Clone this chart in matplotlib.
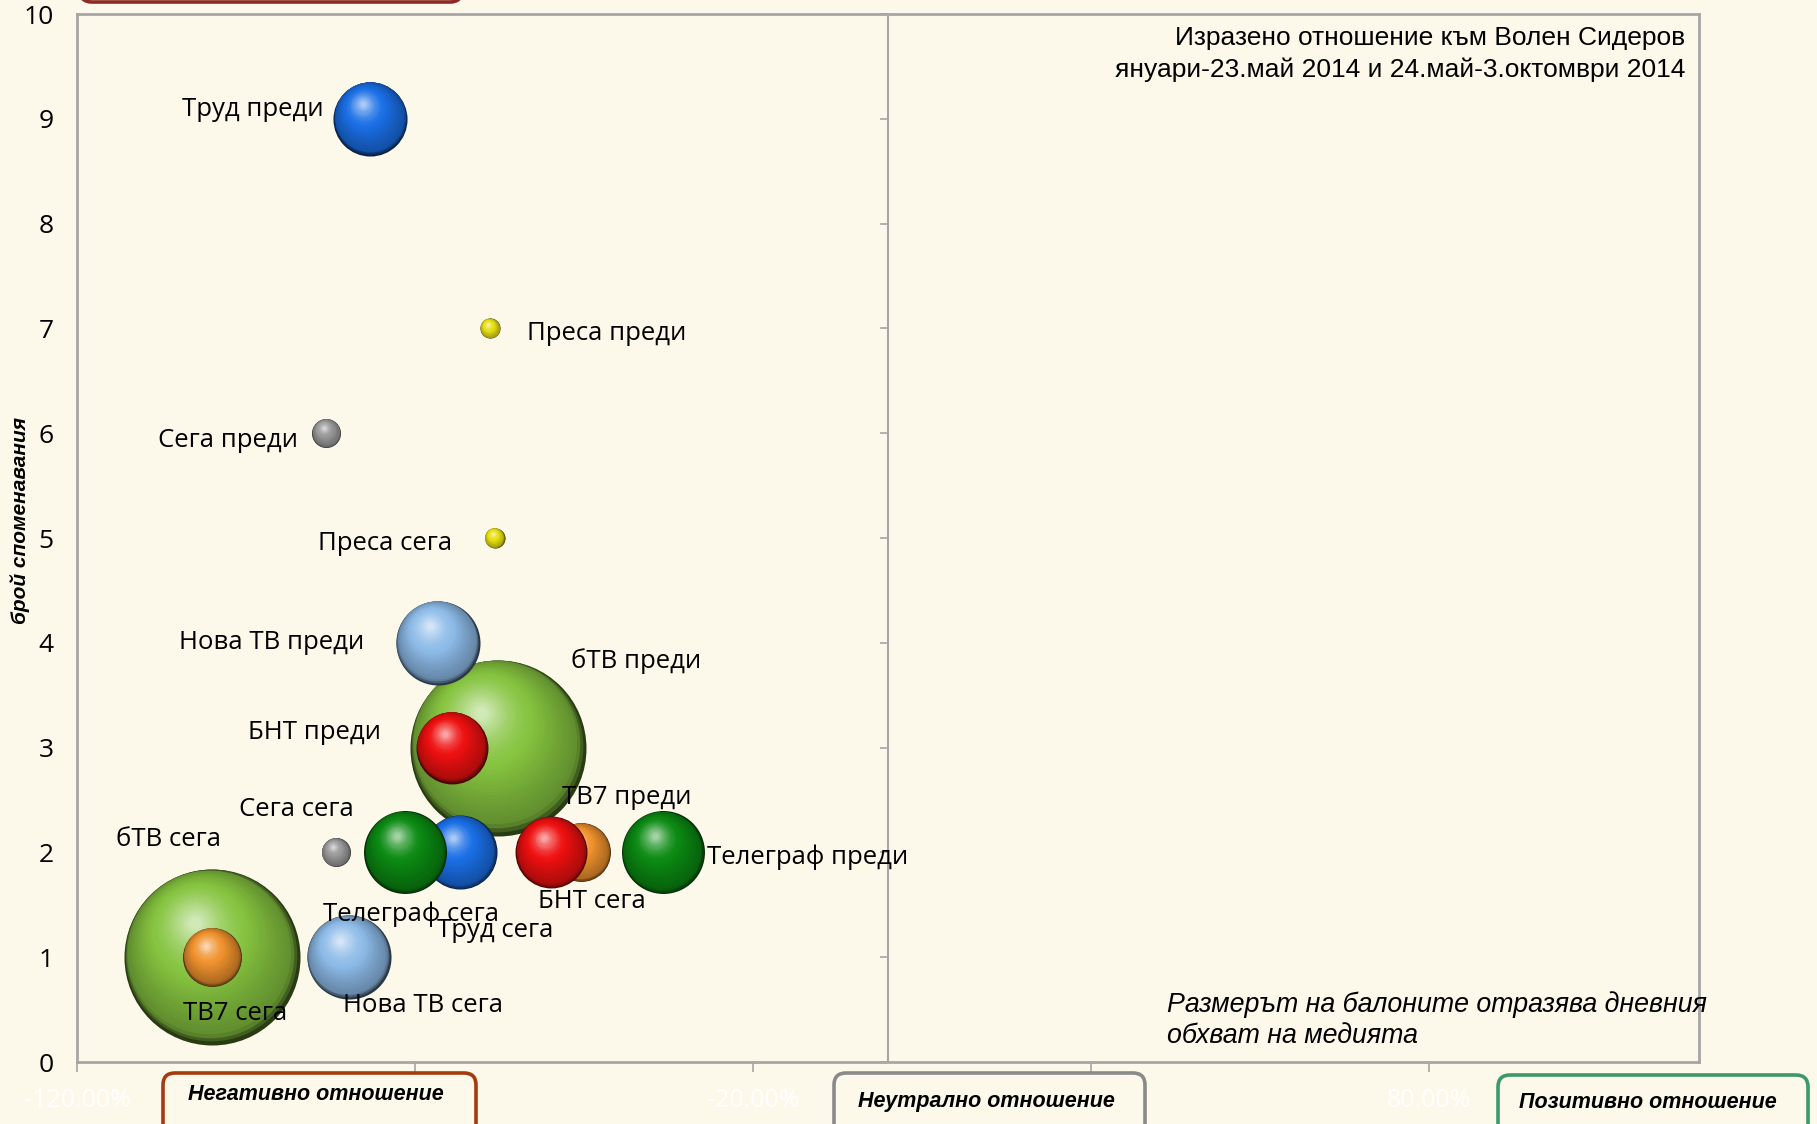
import numpy as np
import matplotlib
matplotlib.use("Agg")
import matplotlib.pyplot as plt
from matplotlib import transforms, markers
from matplotlib.patches import FancyBboxPatch
from matplotlib.colors import to_rgb

# ---------------- data ----------------
point_labels = ["Труд преди", "Преса преди", "Сега преди", "Преса сега", "Нова ТВ преди",
                "бТВ преди", "БНТ преди", "Сега сега", "Телеграф сега", "Труд сега",
                "БНТ сега", "ТВ7 преди", "Телеграф преди", "бТВ сега", "ТВ7 сега", "Нова ТВ сега"]
point_media = ["Труд", "Преса", "Сега", "Преса", "Нова ТВ",
               "бТВ", "БНТ", "Сега", "Телеграф", "Труд",
               "БНТ", "ТВ7", "Телеграф", "бТВ", "ТВ7", "Нова ТВ"]
attitude_pct = [-76.6, -58.9, -83.1, -58.2, -66.6,
                -57.7, -64.5, -81.7, -71.4, -63.3,
                -49.8, -45.4, -33.3, -100.0, -100.0, -79.8]
mentions = [9, 7, 6, 5, 4, 3, 3, 2, 2, 2, 2, 2, 2, 1, 1, 1]

media_names = ["бТВ", "Нова ТВ", "Телеграф", "Труд", "БНТ", "ТВ7", "Сега", "Преса"]
daily_reach = [100, 22.8, 22.2, 17.7, 16.7, 11.2, 2.7, 1.3]

x_ticks = [-120, -70, -20, 30, 80]
y_ticks = list(range(0, 11))

title_lines = ["Изразено отношение към Волен Сидеров",
               "януари-23.май 2014 и 24.май-3.октомври 2014"]
note_lines = ["Размерът на балоните отразява дневния", "обхват на медията"]
y_label = "брой споменавания"
box_texts = ["Негативно отношение", "Неутрално отношение", "Позитивно отношение"]

# ---------------- style ----------------
media_color = {"бТВ": "#86c440", "Нова ТВ": "#8dbbe8", "Телеграф": "#0b8a12", "Труд": "#1a6fe6",
               "БНТ": "#ee1010", "ТВ7": "#f0922e", "Сега": "#9a9a9a", "Преса": "#e8e010"}
media_z = {"бТВ": 2, "ТВ7": 3, "Труд": 4, "Нова ТВ": 5, "Телеграф": 6, "БНТ": 7, "Сега": 8, "Преса": 9}
# label offsets in pixels (dx right, dy down) and alignment
label_layout = [(-47, -14, "right"), (37, 0, "left"), (-28, 2, "right"), (-43, 0, "right"),
                (-74, -5, "right"), (73, -92, "left"), (-71, -20, "right"), (-39, -48, "center"),
                (6, 57, "center"), (35, 73, "center"), (40, 44, "center"), (46, -60, "center"),
                (44, 0, "left"), (-44, -123, "center"), (23, 51, "center"), (74, 43, "center")]
LABEL_SHIFT = 5  # px down

BG = "#fcf8ea"
GRID = "#a6a6a6"
LABEL_FONT = ["Open Sans", "DejaVu Sans"]
ARIAL = ["Liberation Sans", "DejaVu Sans"]

W, H = 1817, 1124
fig = plt.figure(figsize=(W / 100, H / 100), dpi=100, facecolor=BG)
ax = fig.add_axes([77 / W, 1 - 1062 / H, (1699 - 77) / W, (1062 - 14) / H])
ax.set_facecolor(BG)
ax.set_xlim(-120, 120)
ax.set_ylim(0, 10)

for sp in ax.spines.values():
    sp.set_color(GRID)
    sp.set_linewidth(2.0)

ax.set_xticks(x_ticks)
ax.set_xticklabels([f"{v:.2f}%" for v in x_ticks], family=LABEL_FONT)
ax.set_yticks(y_ticks)
ax.set_yticklabels([str(v) for v in y_ticks], family=LABEL_FONT)
ax.tick_params(axis="x", direction="out", length=7, width=1.2, color=GRID,
               labelcolor="white", labelsize=18, pad=12)
ax.tick_params(axis="y", length=0, labelsize=19, pad=17, labelcolor="black")

# centre axis at 0 with tick marks
ax.axvline(0, color=GRID, lw=1.5, zorder=1)
ax.plot([0] * len(y_ticks), y_ticks, linestyle="none", marker=markers.TICKLEFT,
        markersize=6, mew=1.2, color=GRID, zorder=1, clip_on=False)

# ---------------- bubbles with sphere shading ----------------
K = (176 * 0.72) ** 2 / 100.0
reach_of = dict(zip(media_names, daily_reach))
LIGHT_DIR = np.array([-0.45, 0.89])


def sphere(x, y, s, color, z):
    r = np.sqrt(s) / 2.0
    base = np.array(to_rgb(color))
    dark = base * 0.30
    light = base + (1 - base) * 0.62
    N = 40
    for i in range(N):
        t = i / (N - 1)
        f = 1 - 0.93 * t
        g = 1 - 0.53 * t
        off = (1 - f) * r * g * LIGHT_DIR
        if t < 0.06:
            c = dark + (base * 0.72 - dark) * (t / 0.06)
        elif t < 0.5:
            c = base * 0.72 + (base - base * 0.72) * ((t - 0.06) / 0.44)
        else:
            c = base + (light - base) * ((t - 0.5) / 0.5) ** 1.4
        tr = transforms.offset_copy(ax.transData, fig=fig, x=off[0], y=off[1], units="points")
        ax.scatter([x], [y], s=s * f * f, color=np.clip(c, 0, 1), linewidths=0,
                   transform=tr, zorder=z + t * 0.5, clip_on=False)


for lab, med, xv, yv in zip(point_labels, point_media, attitude_pct, mentions):
    sphere(xv, yv, reach_of[med] * K, media_color[med], media_z[med])

for lab, xv, yv, (dx, dy, ha) in zip(point_labels, attitude_pct, mentions, label_layout):
    ax.annotate(lab, (xv, yv), xytext=(dx, -(dy + LABEL_SHIFT)), textcoords="offset pixels",
                ha=ha, va="center", fontsize=18.5, family=LABEL_FONT, color="black", zorder=20)

# ---------------- texts ----------------
fig.text(1685 / W, 1 - 38 / H, title_lines[0], ha="right", va="center", fontsize=19, family=ARIAL)
fig.text(1685 / W, 1 - 70 / H, title_lines[1], ha="right", va="center", fontsize=19, family=ARIAL)
fig.text(1167 / W, 1 - 1005 / H, note_lines[0], ha="left", va="center", fontsize=19.3,
         family=ARIAL, style="italic", zorder=30)
fig.text(1167 / W, 1 - 1036 / H, note_lines[1], ha="left", va="center", fontsize=19.3,
         family=ARIAL, style="italic", zorder=30)
fig.text(20 / W, 1 - 521 / H, y_label, rotation=90, ha="center", va="center", fontsize=15,
         family=ARIAL, weight="bold", style="italic")

# ---------------- boxes ----------------
ident = transforms.IdentityTransform()


def box(x0, x1, ytop, ybot, ec):
    p = FancyBboxPatch((x0, H - ybot), x1 - x0, ybot - ytop,
                       boxstyle="round,pad=0,rounding_size=12", transform=ident,
                       facecolor=BG, edgecolor=ec, linewidth=2.6, zorder=40)
    fig.patches.append(p)


box(80, 462, -60, 2, "#8e2a24")
box(163, 476, 1073, 1140, "#a53b0e")
box(834, 1145, 1073, 1140, "#8a8a8a")
box(1498, 1808, 1075, 1140, "#3c9a68")

fig.text(316 / W, 1 - 1095 / H, box_texts[0], ha="center", va="center", fontsize=15.5,
         family=ARIAL, weight="bold", style="italic", zorder=41)
fig.text(986 / W, 1 - 1101 / H, box_texts[1], ha="center", va="center", fontsize=15.5,
         family=ARIAL, weight="bold", style="italic", zorder=41)
fig.text(1648 / W, 1 - 1102 / H, box_texts[2], ha="center", va="center", fontsize=15.5,
         family=ARIAL, weight="bold", style="italic", zorder=41)

fig.savefig("out.png", dpi=100, facecolor=BG)
